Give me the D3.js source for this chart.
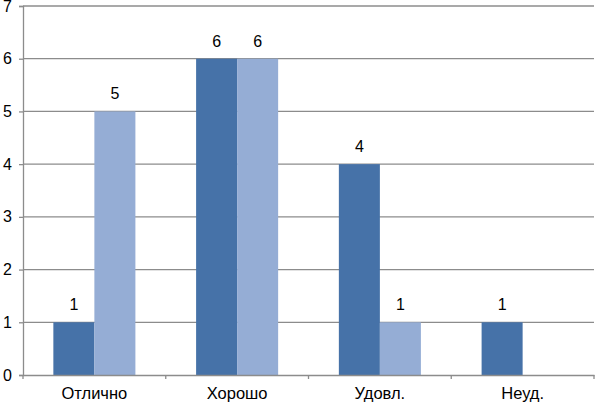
<!DOCTYPE html>
<html><head><meta charset="utf-8">
<script src="https://cdn.jsdelivr.net/npm/d3@7"></script>
<style>body{margin:0;background:#fff}svg{display:block}text{font-family:"Liberation Sans",Arial,sans-serif}</style>
</head><body>
<svg id="c" width="595" height="404"></svg>
<script>
const categories = ["Отлично","Хорошо","Удовл.","Неуд."];
const seriesA = [1,6,4,1];
const seriesB = [5,6,1,0];
const yTicks = [0,1,2,3,4,5,6,7];

(function(){
const svg = d3.select("#c");
const mLeft = 23, mRight = 594, mTop = 6, mBottom = 375;
const x = d3.scaleBand().domain(categories).range([mLeft,mRight]).paddingInner(0).paddingOuter(0);
const y = d3.scaleLinear().domain([0,7]).range([mBottom,mTop]);
const sub = d3.scaleBand().domain(["a","b"]).range([0,x.bandwidth()]).paddingOuter(0.74).paddingInner(0);

svg.append("g").selectAll("line").data(yTicks.filter(d=>d>0)).join("line")
  .attr("x1",mLeft).attr("x2",mRight).attr("y1",d=>y(d)).attr("y2",d=>y(d))
  .attr("stroke","#8c8c8c").attr("stroke-width",1.3);

const series = [{k:"a",vals:seriesA,color:"#4672a8"},{k:"b",vals:seriesB,color:"#95add5"}];
series.forEach(s=>{
  const g = svg.append("g");
  const data = categories.map((c,i)=>({c,v:s.vals[i]})).filter(d=>d.v>0);
  g.selectAll("rect").data(data).join("rect")
    .attr("x",d=>x(d.c)+sub(s.k)).attr("width",sub.bandwidth())
    .attr("y",d=>y(d.v)).attr("height",d=>y(0)-y(d.v)).attr("fill",s.color);
  g.selectAll("text").data(data).join("text")
    .attr("x",d=>x(d.c)+sub(s.k)+sub.bandwidth()/2).attr("y",d=>y(d.v)-12)
    .attr("text-anchor","middle").attr("font-size",16).attr("fill","#000").text(d=>d.v);
});

const ya = svg.append("g").attr("transform",`translate(${mLeft},0)`)
  .call(d3.axisLeft(y).tickValues(yTicks).tickSize(4).tickPadding(7).tickFormat(d3.format("d")));
ya.select(".domain").attr("stroke","#8c8c8c").attr("stroke-width",1.3);
ya.selectAll(".tick line").attr("stroke","#8c8c8c").attr("stroke-width",1.3);
ya.selectAll("text").attr("font-size",16).attr("fill","#000").attr("font-family","Liberation Sans, Arial, sans-serif");

const xa = svg.append("g").attr("transform",`translate(0,${mBottom})`)
  .call(d3.axisBottom(x).tickSize(0).tickPadding(12));
xa.select(".domain").attr("stroke","#8c8c8c").attr("stroke-width",1.3);
xa.selectAll("text").attr("font-size",16.5).attr("fill","#000").attr("font-family","Liberation Sans, Arial, sans-serif");
const bounds = categories.map(c=>x(c)).concat([x(categories[categories.length-1])+x.bandwidth()]);
svg.append("g").selectAll("line").data(bounds).join("line")
  .attr("x1",d=>d).attr("x2",d=>d).attr("y1",mBottom).attr("y2",mBottom+4)
  .attr("stroke","#8c8c8c").attr("stroke-width",1.3);
})();
</script>
</body></html>
